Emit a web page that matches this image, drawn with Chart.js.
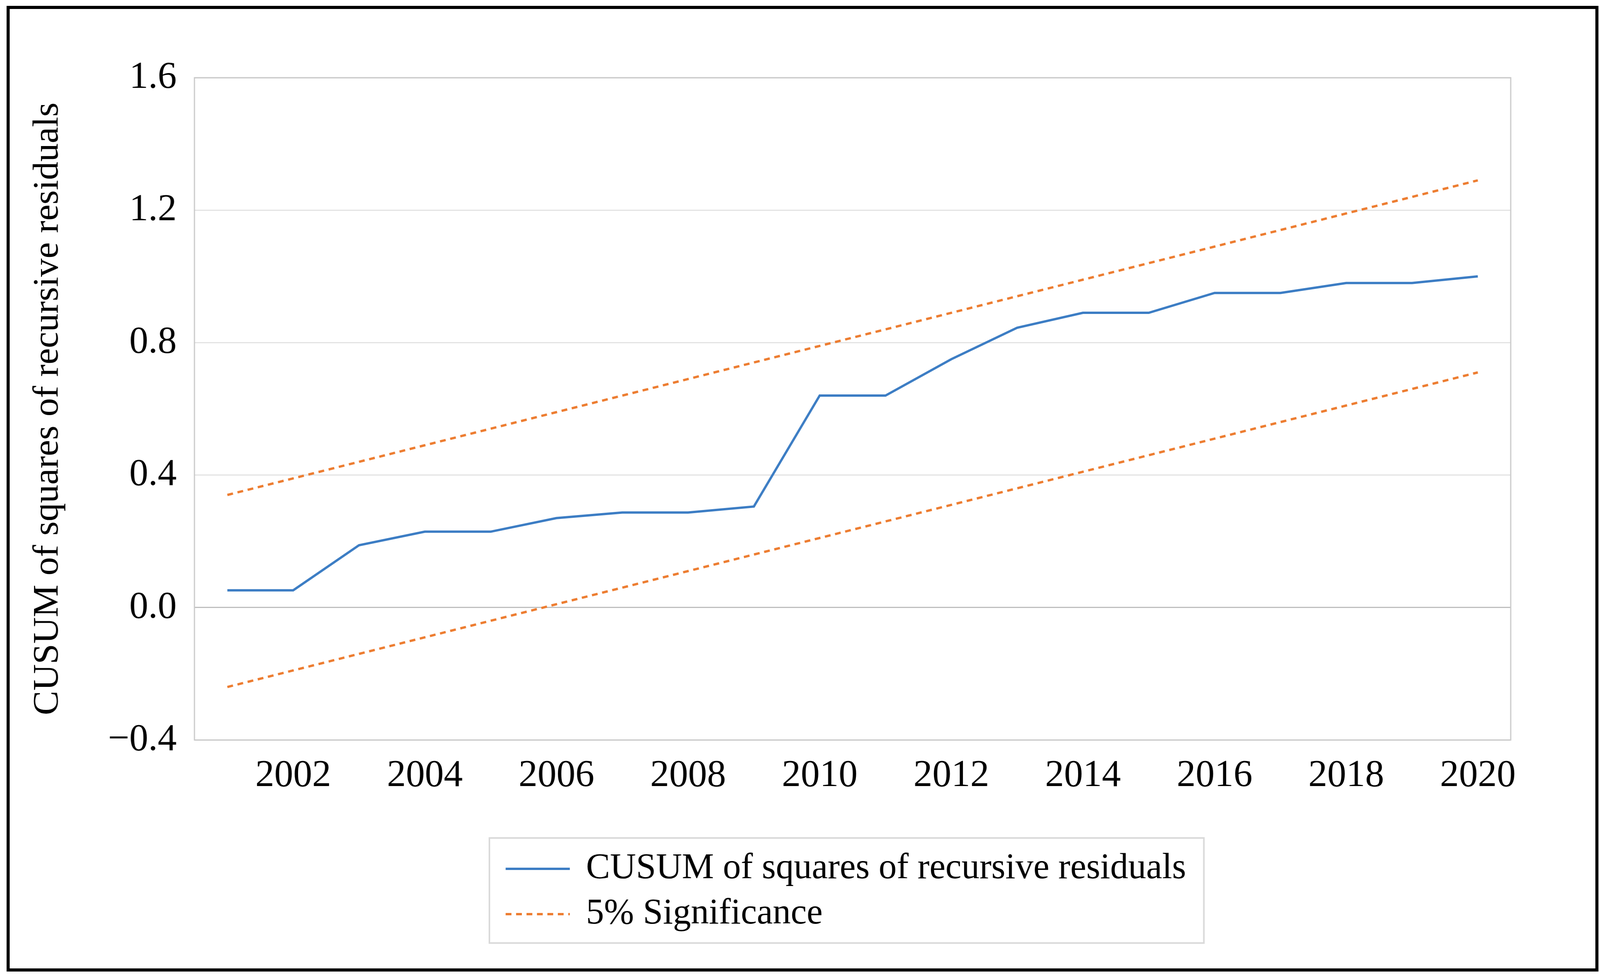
<!DOCTYPE html>
<html>
<head>
<meta charset="utf-8">
<title>CUSUM of squares</title>
<script src="https://cdn.jsdelivr.net/npm/chart.js@4.4.1/dist/chart.umd.min.js"></script>
<style>
  html, body { margin: 0; padding: 0; background: #fff; overflow: hidden; }
  canvas { display: block; }
</style>
</head>
<body>
<canvas id="cusumChart" width="4139" height="2502"></canvas>
<script>
// values
var years = ['2001', '2002', '2003', '2004', '2005', '2006', '2007', '2008', '2009', '2010',
             '2011', '2012', '2013', '2014', '2015', '2016', '2017', '2018', '2019', '2020'];
var cusumSq = [0.052, 0.052, 0.188, 0.229, 0.229, 0.270, 0.287, 0.287, 0.305, 0.640,
               0.640, 0.750, 0.845, 0.890, 0.890, 0.950, 0.950, 0.980, 0.980, 1.000];
var upperBound = [0.34, 0.39, 0.44, 0.49, 0.54, 0.59, 0.64, 0.69, 0.74, 0.79,
                  0.84, 0.89, 0.94, 0.99, 1.04, 1.09, 1.14, 1.19, 1.24, 1.29];
var lowerBound = [-0.24, -0.19, -0.14, -0.09, -0.04, 0.01, 0.06, 0.11, 0.16, 0.21,
                  0.26, 0.31, 0.36, 0.41, 0.46, 0.51, 0.56, 0.61, 0.66, 0.71];
var yTicks = [-0.4, 0.0, 0.4, 0.8, 1.2, 1.6];

var blue = '#3C7DC4';
var orange = '#ED7D31';
var serif = "'Liberation Serif', 'Times New Roman', serif";

Chart.defaults.font.family = serif;
Chart.defaults.color = '#000';

// the chart is laid out at 4139x2502 and shown at whatever the window really is
var canvas = document.getElementById('cusumChart');
canvas.style.width = (window.innerWidth || 4139) + 'px';
canvas.style.height = (window.innerHeight || 2502) + 'px';

// white page + black frame, grey frame round the plot area
var framePlugin = {
  id: 'frames',
  beforeDraw: function(chart) {
    var ctx = chart.ctx;
    ctx.save();
    ctx.fillStyle = '#fff';
    ctx.fillRect(0, 0, chart.width, chart.height);
    ctx.strokeStyle = '#000';
    ctx.lineWidth = 8;
    ctx.strokeRect(21, 19, chart.width - 29, chart.height - 37);
    ctx.restore();
  },
  beforeDatasetsDraw: function(chart) {
    var a = chart.chartArea, ctx = chart.ctx;
    ctx.save();
    ctx.strokeStyle = '#c9c9c9';
    ctx.lineWidth = 3;
    ctx.strokeRect(a.left, a.top, a.right - a.left, a.bottom - a.top);
    ctx.restore();
  }
};

// boxed legend under the plot, one item per row
var boxLegend = {
  id: 'boxLegend',
  afterDraw: function(chart) {
    var ctx = chart.ctx;
    var items = chart.data.datasets.filter(function(d) { return !d.hideInLegend; });
    ctx.save();
    ctx.font = '93px ' + serif;
    var textW = 0;
    items.forEach(function(d) { textW = Math.max(textW, ctx.measureText(d.label).width); });
    var sampleW = 166, gap = 42, padX = 42, rowH = 116;
    var boxW = padX + sampleW + gap + textW + 46;
    var x0 = 1266, y0 = 2146, boxH = 269;
    ctx.strokeStyle = '#d9d9d9';
    ctx.lineWidth = 4;
    ctx.strokeRect(x0, y0, boxW, boxH);
    items.forEach(function(d, i) {
      var yc = y0 + 79 + i * rowH;
      ctx.beginPath();
      ctx.strokeStyle = d.borderColor;
      ctx.lineWidth = d.borderWidth;
      ctx.setLineDash(d.borderDash || []);
      ctx.moveTo(x0 + padX, yc);
      ctx.lineTo(x0 + padX + sampleW, yc);
      ctx.stroke();
      ctx.setLineDash([]);
      ctx.fillStyle = '#000';
      ctx.textBaseline = 'middle';
      ctx.textAlign = 'left';
      ctx.fillText(d.label, x0 + padX + sampleW + gap, yc);
    });
    ctx.restore();
  }
};

var myChart = new Chart(canvas, {
  type: 'line',
  data: {
    labels: years,
    datasets: [{
      label: 'CUSUM of squares of recursive residuals',
      data: cusumSq,
      borderColor: blue,
      borderWidth: 6,
      pointRadius: 0,
      tension: 0
    }, {
      label: '5% Significance',
      data: upperBound,
      borderColor: orange,
      borderWidth: 6,
      borderDash: [15, 12],
      pointRadius: 0,
      tension: 0
    }, {
      label: '5% Significance',
      data: lowerBound,
      borderColor: orange,
      borderWidth: 6,
      borderDash: [15, 12],
      pointRadius: 0,
      tension: 0,
      hideInLegend: true
    }]
  },
  options: {
    responsive: false,
    devicePixelRatio: 1,
    animation: false,
    layout: { padding: { left: 0, top: 199, right: 231, bottom: 457 } },
    plugins: {
      legend: { display: false },
      tooltip: { enabled: false }
    },
    scales: {
      x: {
        offset: true,
        grid: { display: false, offset: true },
        border: { display: false },
        ticks: {
          autoSkip: false,
          maxRotation: 0,
          padding: 25,
          font: { size: 98 },
          callback: function(v) {
            var y = this.getLabelForValue(v);
            return (parseInt(y, 10) % 2 === 0) ? y : '';
          }
        },
        afterFit: function(scale) { scale.height = 150; }
      },
      y: {
        min: -0.4,
        max: 1.6,
        afterBuildTicks: function(scale) {
          scale.ticks = yTicks.map(function(v) { return { value: v }; });
        },
        grid: {
          drawTicks: false,
          lineWidth: 3,
          color: function(c) {
            return (c.tick && Math.abs(c.tick.value) < 1e-9) ? '#bfbfbf' : '#e3e3e3';
          }
        },
        border: { display: false },
        ticks: {
          padding: 46,
          font: { size: 98 },
          callback: function(v) {
            if (Math.abs(v) < 1e-9) return '0.0';
            var s = Math.abs(v).toFixed(1);
            return v < 0 ? '\u2212' + s : s;
          }
        },
        title: {
          display: true,
          text: 'CUSUM of squares of recursive residuals',
          font: { size: 94 },
          padding: { top: 68, bottom: 0 }
        },
        afterFit: function(scale) { scale.width = 503; }
      }
    }
  },
  plugins: [framePlugin, boxLegend]
});
</script>
</body>
</html>
